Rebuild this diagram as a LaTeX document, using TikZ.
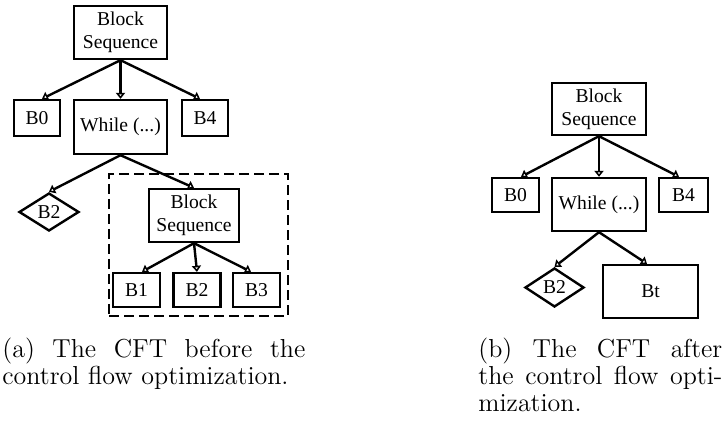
\documentclass[tikz,border=0pt]{standalone}
\usepackage{fontspec}
\usetikzlibrary{shapes.geometric,arrows.meta}
\newfontfamily\diagfont{Liberation Serif}

\begin{document}
\begin{tikzpicture}[x=0.5pt,y=-0.5pt,
  box/.style={draw, line width=1.2pt, rectangle, inner sep=0pt, align=center,
    font=\diagfont\fontsize{9.8}{11.5}\selectfont},
  dia/.style={draw, line width=1.2pt, diamond, aspect=1.55, inner sep=0pt,
    font=\diagfont\fontsize{9.8}{11.5}\selectfont},
  group/.style={draw, line width=1.2pt, rectangle, inner sep=0pt,
    dash pattern=on 5pt off 2.5pt},
  link/.style={line width=1.2pt, -{Triangle[open,length=3pt,width=4.6pt]}},
  capt/.style={anchor=north west, inner sep=0pt, align=left,
    font=\fontsize{13}{13.5}\selectfont}]
\useasboundingbox (0,0) rectangle (722,432);

% ---- CFT before the optimization ----
\node[group, minimum width=89.5pt, minimum height=71pt] (frame) at (198.5,245) {};
\node[box, minimum width=46.5pt, minimum height=26.5pt] (seq1) at (120.5,32.5) {Block\\Sequence};
\node[box, minimum width=23pt, minimum height=18pt] (b0) at (37,118) {B0};
\node[box, minimum width=46.5pt, minimum height=27pt] (wh) at (120.5,127) {While (...)};
\node[box, minimum width=23pt, minimum height=18pt] (b4) at (205,118) {B4};
\node[dia, minimum width=30pt, minimum height=19pt] (d2) at (49,212) {B2};
\node[box, minimum width=45pt, minimum height=26.5pt] (seq2) at (194,215.5) {Block\\Sequence};
\node[box, minimum width=23.5pt, minimum height=17pt] (c1) at (136.5,290) {B1};
\node[box, minimum width=23.5pt, minimum height=17pt] (c2) at (197,290) {B2};
\node[box, minimum width=23.5pt, minimum height=17pt] (c3) at (256.5,290) {B3};

\draw[link] (seq1.south) -- ([xshift=2.5pt]b0.north);
\draw[link] (seq1.south) -- (wh.north);
\draw[link] (seq1.south) -- ([xshift=-2.5pt]b4.north);
\draw[link] (wh.south) -- (d2.north);
\draw[link] (wh.south) -- (seq2.north);
\draw[link] (seq2.south) -- ([xshift=2.75pt]c1.north);
\draw[link] (seq2.south) -- (c2.north);
\draw[link] (seq2.south) -- ([xshift=-2.75pt]c3.north);

% ---- CFT after the optimization ----
\node[box, minimum width=47pt, minimum height=26pt] (rseq) at (599,109) {Block\\Sequence};
\node[box, minimum width=23.5pt, minimum height=17pt] (rb0) at (515.5,195) {B0};
\node[box, minimum width=47pt, minimum height=26.5pt] (rwh) at (599,204.5) {While (...)};
\node[box, minimum width=24.5pt, minimum height=17pt] (rb4) at (683.5,195) {B4};
\node[dia, minimum width=29.5pt, minimum height=19.5pt] (rd2) at (554.5,287.5) {B2};
\node[box, minimum width=47.5pt, minimum height=26.5pt] (bt) at (650.5,291.5) {Bt};

\draw[link] (rseq.south) -- ([xshift=2.75pt]rb0.north);
\draw[link] (rseq.south) -- (rwh.north);
\draw[link] (rseq.south) -- ([xshift=-2.25pt]rb4.north);
\draw[link] (rwh.south) -- (rd2.north);
\draw[link] (rwh.south) -- ([xshift=-1.75pt]bt.north);

% ---- captions ----
\node[capt, text width=151.5pt] (capa) at (2,338)
  {(a)\hfill The\hfill CFT\hfill before\hfill the\\control flow optimization.};
\node[capt, text width=122pt] (capb) at (478,338)
  {(b)\hfill The\hfill CFT\hfill after\\the\hfill control\hfill flow\hfill opti-\\mization.};
\end{tikzpicture}
\end{document}
